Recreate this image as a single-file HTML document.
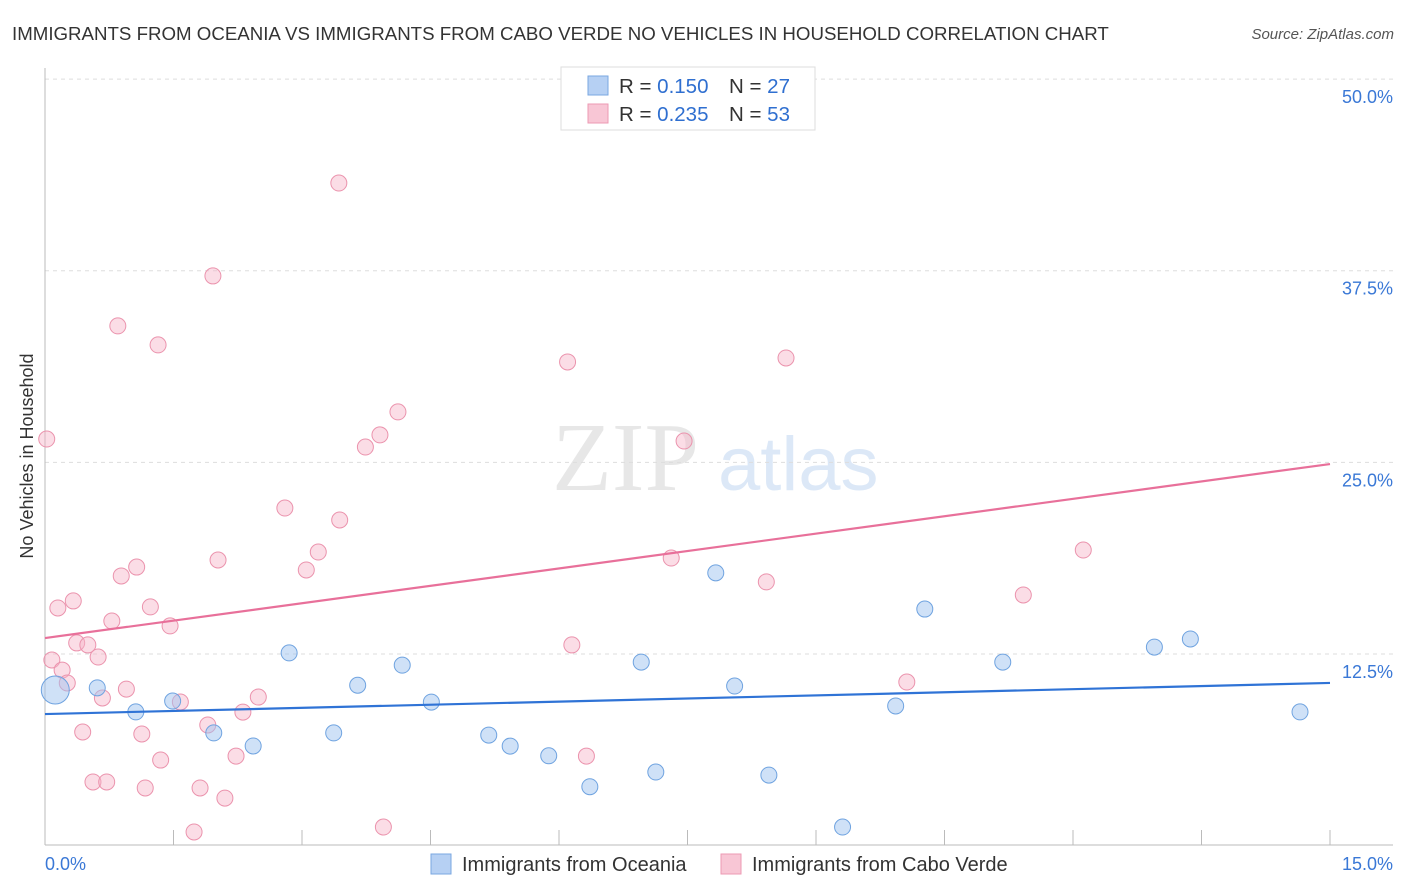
<!DOCTYPE html>
<html><head><meta charset="utf-8"><style>
body{margin:0;background:#fff;font-family:"Liberation Sans",sans-serif}
svg{display:block}
</style></head><body>
<svg id="chart" width="1406" height="892">
<text x="12" y="40" font-size="18.7" fill="#333">IMMIGRANTS FROM OCEANIA VS IMMIGRANTS FROM CABO VERDE NO VEHICLES IN HOUSEHOLD CORRELATION CHART</text>
<text x="1394" y="39" font-size="15" fill="#555" font-style="italic" text-anchor="end">Source: ZipAtlas.com</text>
<text x="33" y="456" font-size="18" fill="#333" text-anchor="middle" transform="rotate(-90 33 456)">No Vehicles in Household</text>
<g opacity="0.35">
<text x="552" y="490" font-family="Liberation Serif,serif" font-size="98" fill="#bbb">ZIP</text>
<text x="718" y="490" font-size="76" fill="#9ec0ea">atlas</text>
</g>
<g id="grid"></g><g id="marks"></g>
<g>
<rect x="561" y="67" width="254" height="63" fill="#fff" stroke="#ddd"/>
<rect x="588" y="76" width="20" height="19" fill="#b6d0f3" stroke="#7aa7e0"/>
<rect x="588" y="104" width="20" height="19" fill="#f8c6d5" stroke="#ec9ab3"/>
<text x="619" y="93" font-size="20.5" fill="#333">R = <tspan fill="#2f6fd0">0.150</tspan></text>
<text x="729" y="93" font-size="20.5" fill="#333">N = <tspan fill="#2f6fd0">27</tspan></text>
<text x="619" y="121" font-size="20.5" fill="#333">R = <tspan fill="#2f6fd0">0.235</tspan></text>
<text x="729" y="121" font-size="20.5" fill="#333">N = <tspan fill="#2f6fd0">53</tspan></text>
</g>
<g>
<rect x="431" y="854" width="20" height="20" fill="#b6d0f3" stroke="#7aa7e0"/>
<text x="462" y="871" font-size="20" fill="#333">Immigrants from Oceania</text>
<rect x="721" y="854" width="20" height="20" fill="#f8c6d5" stroke="#ec9ab3"/>
<text x="752" y="871" font-size="20" fill="#333">Immigrants from Cabo Verde</text>
</g>
<text x="45" y="870" font-size="18" fill="#3a78d6">0.0%</text>
<text x="1393" y="870" font-size="18" fill="#3a78d6" text-anchor="end">15.0%</text>
</svg>
<script>
const yTicks=[12.5,25,37.5,50];
const yTickLabels=["12.5%","25.0%","37.5%","50.0%"];
const xTicks=[0,1.5,3,4.5,6,7.5,9,10.5,12,13.5,15];
const oceaniaX=[.12,.61,1.06,1.49,1.97,2.43,2.85,3.37,3.65,4.17,4.51,5.18,5.43,5.88,6.36,6.96,7.13,7.83,8.05,8.45,9.31,9.93,10.27,11.18,12.95,13.37,14.65];
const oceaniaY=[10.15,10.29,8.72,9.43,7.35,6.50,12.57,7.35,10.46,11.77,9.36,7.21,6.49,5.86,3.84,11.97,4.80,17.79,10.41,4.60,1.21,9.11,15.43,11.97,12.95,13.48,8.72];
const caboX=[.02,.08,.15,.20,.26,.33,.37,.44,.50,.56,.62,.67,.72,.78,.85,.89,.95,1.07,1.13,1.17,1.23,1.32,1.35,1.46,1.58,1.74,1.81,1.90,1.96,2.02,2.10,2.23,2.31,2.49,2.80,3.05,3.19,3.43,3.44,3.74,3.91,3.95,4.12,6.10,6.15,6.32,7.31,7.46,8.42,8.65,10.06,11.42,12.12];
const caboY=[26.52,12.11,15.50,11.45,10.61,15.96,13.22,7.41,13.09,4.15,12.30,9.63,4.15,14.65,33.90,17.59,10.21,18.17,7.28,3.76,15.57,32.66,5.58,14.33,9.37,.89,3.76,7.87,37.16,18.63,3.10,5.84,8.71,9.69,22.02,17.98,19.15,43.22,21.24,26.00,26.79,1.21,28.29,31.55,13.09,5.84,18.76,26.39,17.20,31.81,10.67,16.35,19.28];
const oceaniaTrend=[8.58,10.61];
const caboTrend=[13.54,24.89];
const NS="http://www.w3.org/2000/svg";
const X=v=>45+v/15*1285, Y=v=>845.6-v*15.33;
function mk(t,a,p){const e=document.createElementNS(NS,t);for(const k in a)e.setAttribute(k,a[k]);p.appendChild(e);return e;}
const g=document.getElementById('grid'),m=document.getElementById('marks');
yTicks.forEach((t,i)=>{
 const l=mk('line',{x1:45,x2:1393,y1:Y(t),y2:Y(t),stroke:'#ddd','stroke-dasharray':'4,4'},g);
 
 
 const tx=mk('text',{x:1393,y:Y(t)+24,'font-size':18,fill:'#3a78d6','text-anchor':'end'},g);
 tx.textContent=yTickLabels[i];
 
 
});
const ax=mk('line',{x1:45,x2:45,y1:68,y2:845,stroke:'#bbb'},g);


const bx=mk('line',{x1:45,x2:1393,y1:845,y2:845,stroke:'#bbb'},g);


xTicks.forEach(t=>{
 const l=mk('line',{x1:X(t),x2:X(t),y1:830,y2:845,stroke:'#bbb'},g);
 
 
});
caboX.forEach((x,i)=>{
 const c=mk('circle',{cx:X(x),cy:Y(caboY[i]),r:8,fill:'rgba(246,180,200,0.45)',stroke:'#eb93ad','stroke-width':1},m);
 
 
});
oceaniaX.forEach((x,i)=>{
 const c=mk('circle',{cx:X(x),cy:Y(oceaniaY[i]),r:i===0?14:8,fill:'rgba(160,195,240,0.5)',stroke:'#6fa3e0','stroke-width':1},m);
 
 
});
const tl1=mk('line',{x1:X(0),x2:X(15),y1:Y(caboTrend[0]),y2:Y(caboTrend[1]),stroke:'#e8709a','stroke-width':2.2},m);


const tl2=mk('line',{x1:X(0),x2:X(15),y1:Y(oceaniaTrend[0]),y2:Y(oceaniaTrend[1]),stroke:'#2f73d6','stroke-width':2.2},m);


</script>
</body></html>
